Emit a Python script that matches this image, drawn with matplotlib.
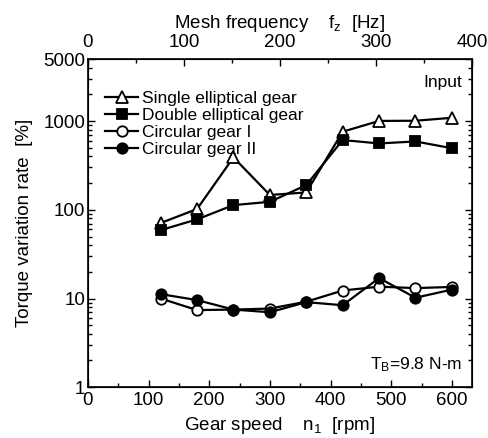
import numpy as np
import matplotlib
matplotlib.use("Agg")
import matplotlib.pyplot as plt
from matplotlib.ticker import FixedLocator, MultipleLocator, LogLocator, NullFormatter

plt.rcParams["font.family"] = ["Liberation Sans", "DejaVu Sans"]
plt.rcParams["mathtext.fontset"] = "custom"
plt.rcParams["mathtext.rm"] = "Liberation Sans"
plt.rcParams["mathtext.it"] = "Liberation Sans"

# gear speed [rpm]
speed = [120, 180, 240, 300, 360, 420, 480, 540, 600]

# torque variation rate [%]
single_ell = [71, 102, 390, 147, 157, 760, 1005, 1010, 1090]
double_ell = [59, 78, 113, 123, 190, 612, 560, 590, 495]
circ_1 = [10.0, 7.4, 7.5, 7.7, 9.2, 12.3, 13.6, 13.1, 13.5]
circ_2 = [11.2, 9.6, 7.5, 7.0, 9.1, 8.4, 17.0, 10.2, 12.6]

fig = plt.figure(figsize=(4.88, 4.38), dpi=100)
ax = fig.add_axes([0.180, 0.116, 0.787, 0.749])

fs = 12.5
tfs = 13.5
kw = dict(color="black", lw=1.6, markeredgewidth=1.3, markeredgecolor="black")
ax.plot(speed, single_ell, marker="^", ms=9, mfc="white", label="Single elliptical gear", **kw)
ax.plot(speed, double_ell, marker="s", ms=6.5, mfc="black", label="Double elliptical gear", **kw)
ax.plot(speed, circ_1, marker="o", ms=7.5, mfc="white", label="Circular gear I", **kw)
ax.plot(speed, circ_2, marker="o", ms=7.5, mfc="black", label="Circular gear II", **kw)

ax.set_yscale("log")
ax.set_ylim(1, 5000)
ax.set_xlim(0, 633)
ax.xaxis.set_major_locator(MultipleLocator(100))
ax.xaxis.set_minor_locator(MultipleLocator(50))
ax.yaxis.set_major_locator(FixedLocator([1, 10, 100, 1000, 5000]))
ax.yaxis.set_minor_locator(LogLocator(base=10, subs=np.arange(2, 10)))
ax.yaxis.set_minor_formatter(NullFormatter())
ax.set_yticklabels(["1", "10", "100", "1000", "5000"])
ax.tick_params(which="both", direction="in", right=True, labelsize=tfs, width=1.0)
ax.tick_params(which="major", length=5)
ax.tick_params(which="minor", length=3)
ax.tick_params(axis="y", pad=2)
for s in ax.spines.values():
    s.set_linewidth(1.2)

ax.set_xlabel("Gear speed    n$_1$  [rpm]", fontsize=tfs, labelpad=4)
ax.set_ylabel("Torque variation rate  [%]", fontsize=tfs, labelpad=0)
ax.yaxis.set_label_coords(-0.142, 0.5)

# top axis: mesh frequency
top = ax.twiny()
top.set_xlim(0, 400)
top.xaxis.set_major_locator(MultipleLocator(100))
top.xaxis.set_minor_locator(MultipleLocator(50))
top.tick_params(which="both", direction="in", labelsize=tfs, width=1.0, pad=6)
top.tick_params(which="major", length=5)
top.tick_params(which="minor", length=3)
top.set_xlabel("Mesh frequency    f$_z$  [Hz]", fontsize=tfs, labelpad=4)

ax.text(0.975, 0.93, "Input", transform=ax.transAxes, ha="right", va="center", fontsize=fs)
ax.text(0.975, 0.07, "T$_B$=9.8 N-m", transform=ax.transAxes, ha="right", va="center", fontsize=fs)

ax.legend(loc="upper left", bbox_to_anchor=(0.0, 0.955), frameon=False, fontsize=fs,
          handlelength=1.9, handletextpad=0.2, labelspacing=0.1, borderaxespad=0.6)

fig.savefig("out.png", dpi=100)
